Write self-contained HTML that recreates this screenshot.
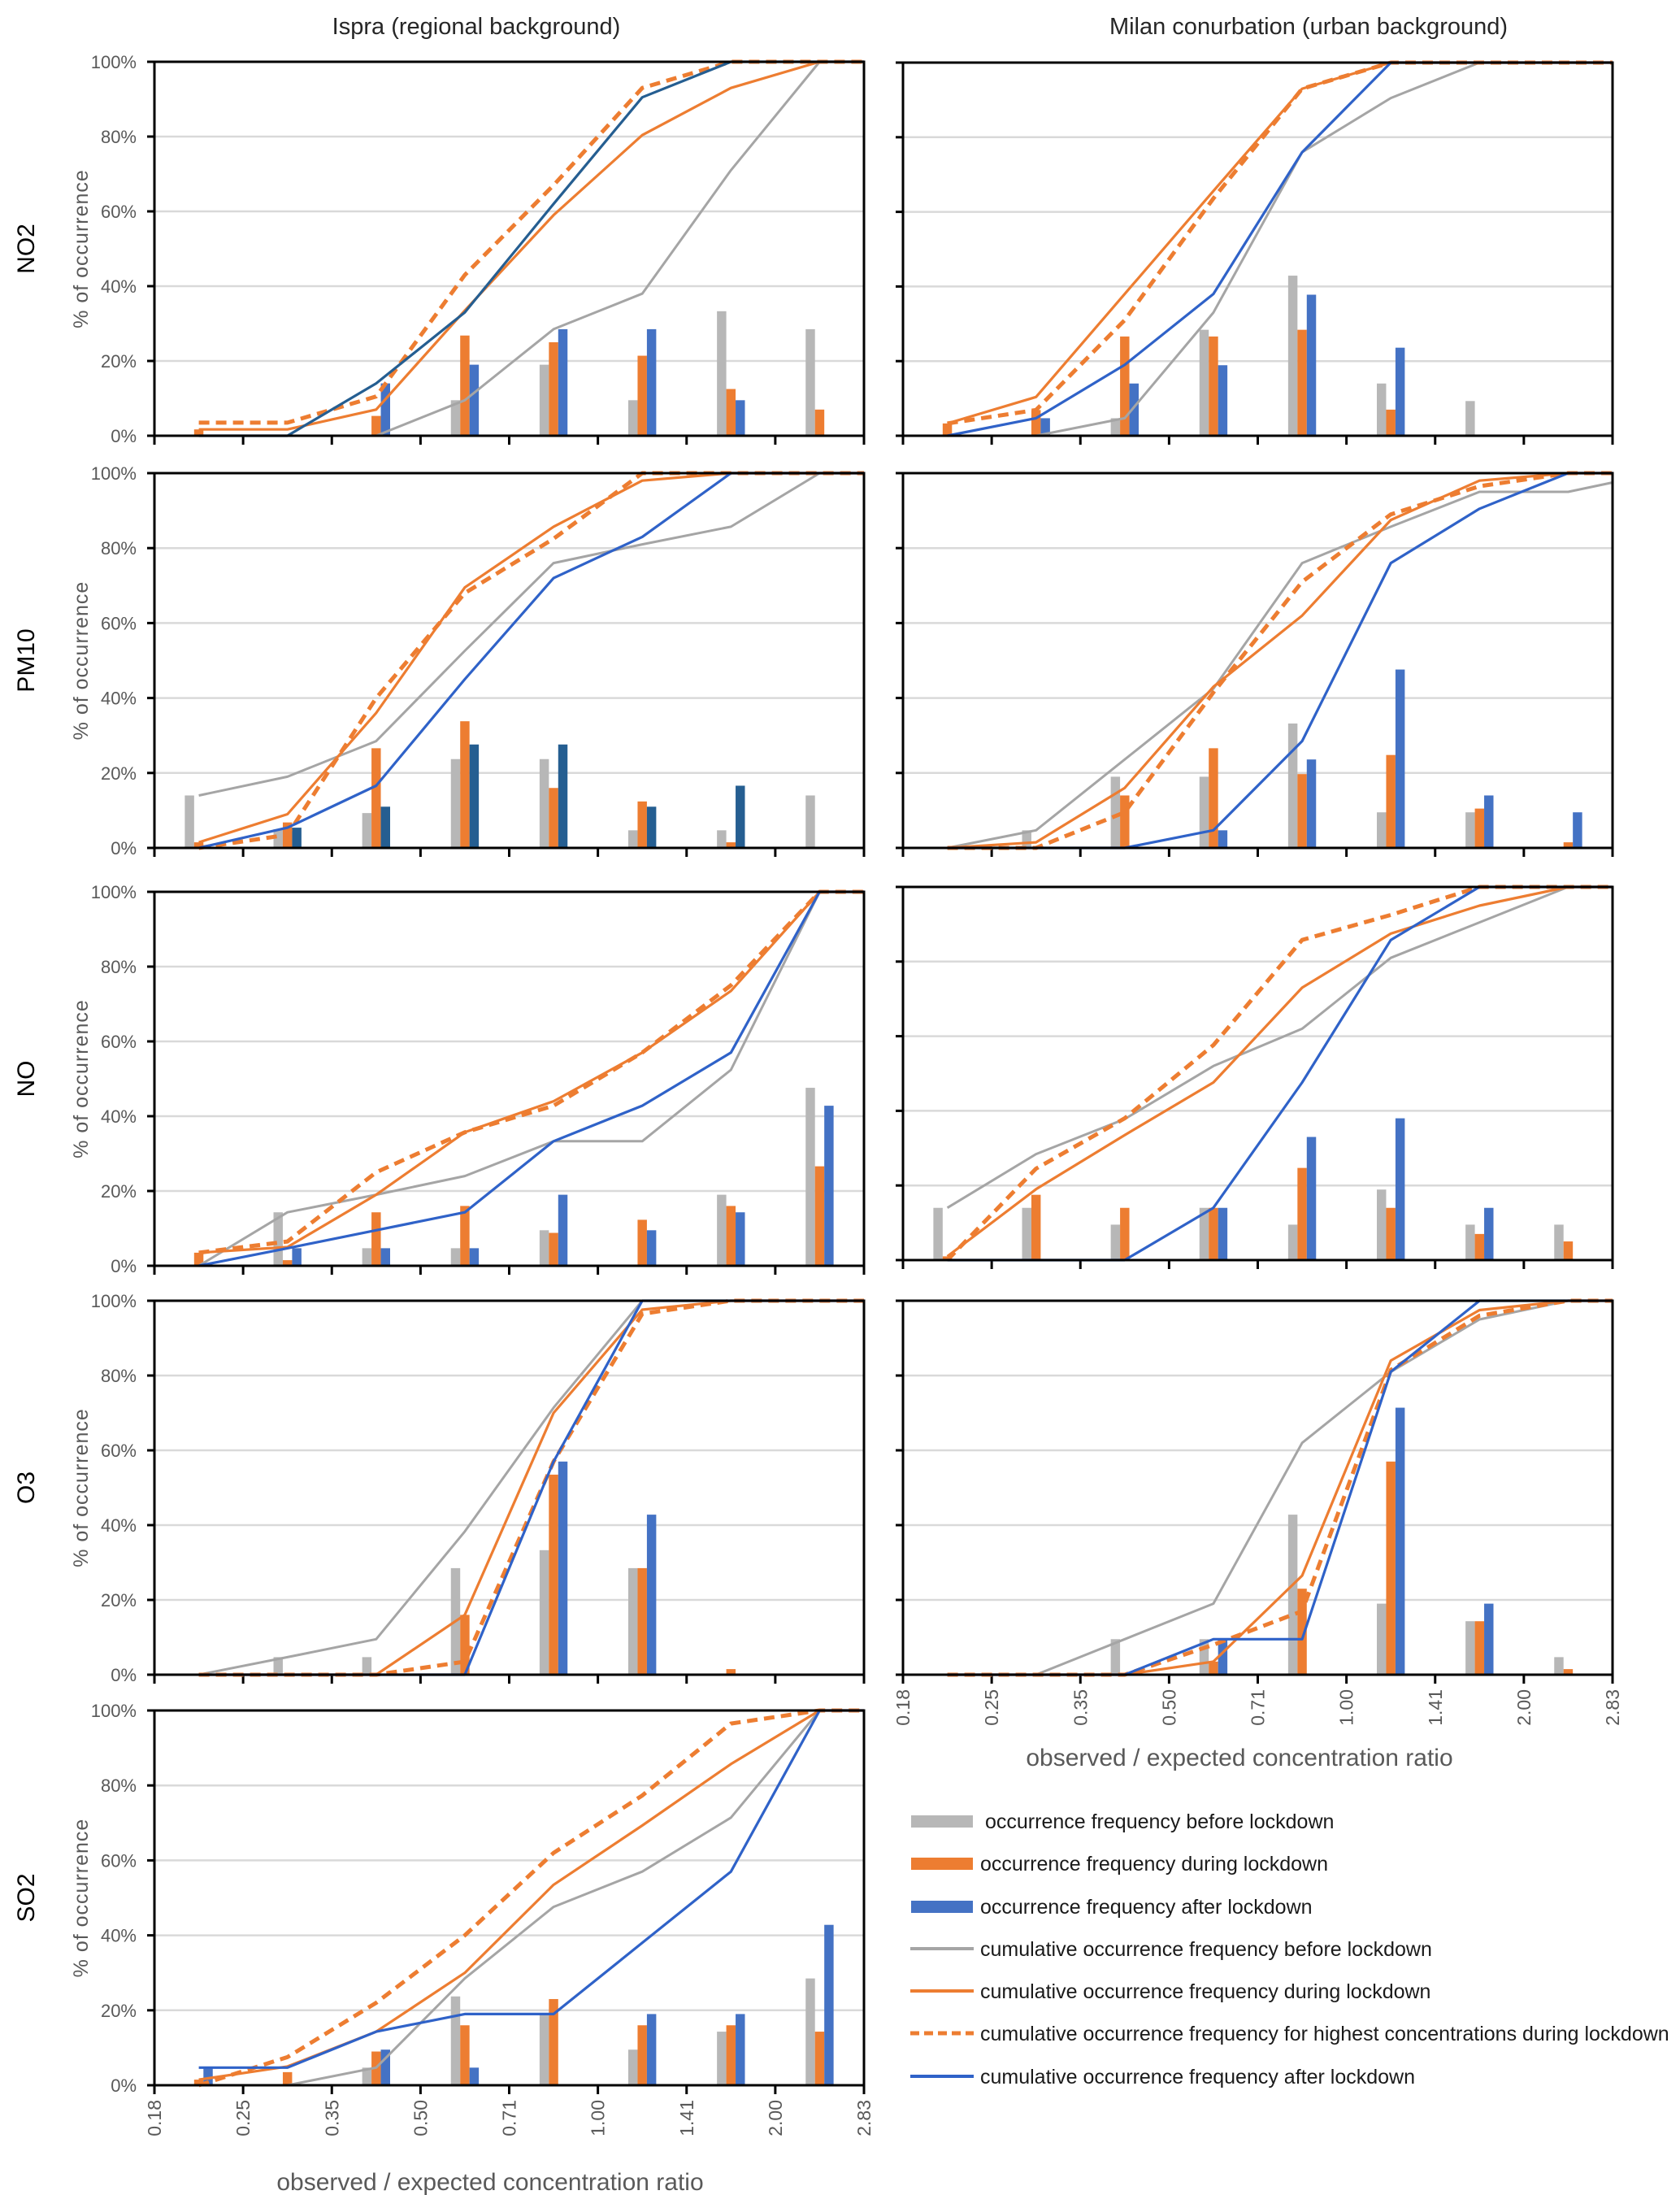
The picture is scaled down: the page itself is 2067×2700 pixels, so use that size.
<!DOCTYPE html>
<html><head><meta charset="utf-8"><style>
html,body{margin:0;padding:0;background:#fff;}
svg{display:block;font-family:"Liberation Sans",sans-serif;}
</style></head>
<body>
<svg id="fig" width="2067" height="2700" viewBox="0 0 2067 2700" xmlns="http://www.w3.org/2000/svg"></svg>
<script>
// ---- shared axis data ----
const tickLabels = ['0.18','0.25','0.35','0.50','0.71','1.00','1.41','2.00','2.83'];
const yTicks = [0,20,40,60,80,100];

// ---- Ispra NO2 ----
const ispraNO2Before = [0,0,0,9.5,19,9.5,33.3,28.5];
const ispraNO2During = [1.7,0,5.3,26.8,25,21.4,12.5,7];
const ispraNO2After  = [0,0,14,19,28.5,28.5,9.5,0];
const ispraNO2CumBefore = [0,0,0,9.5,28.5,38,71,100,100];
const ispraNO2CumDuring = [1.7,1.7,7,33.5,59,80.4,93,100,100];
const ispraNO2CumHigh   = [3.5,3.5,10.5,43,67,93,100,100,100];
const ispraNO2CumAfter  = [0,0,14,33,62,90.5,100,100,100];
// ---- Milan NO2 ----
const milanNO2Before = [0,0,4.7,28.4,42.9,14,9.3,0];
const milanNO2During = [3.3,6.9,26.6,26.6,28.4,7,0,0];
const milanNO2After  = [0,4.7,14,18.9,37.8,23.6,0,0];
const milanNO2CumBefore = [0,0,4.7,33,76,90.5,100,100,100];
const milanNO2CumDuring = [3.3,10.4,38,65.6,93,100,100,100,100];
const milanNO2CumHigh   = [3.3,6.9,31,63.6,93,100,100,100,100];
const milanNO2CumAfter  = [0,4.7,19,38,76,100,100,100,100];
// ---- Ispra PM10 ----
const ispraPM10Before = [14,5,9.3,23.7,23.7,4.7,4.7,14];
const ispraPM10During = [1.5,6.8,26.6,33.8,16,12.4,1.5,0];
const ispraPM10After  = [0,5.4,11,27.6,27.6,11,16.6,0];
const ispraPM10CumBefore = [14,19,28.5,52.6,76,81,85.7,100,100];
const ispraPM10CumDuring = [1.5,9,36,69.5,85.7,98,100,100,100];
const ispraPM10CumHigh   = [0,3.5,40,68,82.5,100,100,100,100];
const ispraPM10CumAfter  = [0,5.4,16.6,45,72,83,100,100,100];
// ---- Milan PM10 ----
const milanPM10Before = [0,4.7,19,19,33.2,9.5,9.5,0];
const milanPM10During = [0,0,14,26.6,19.7,24.8,10.5,1.5];
const milanPM10After  = [0,0,0,4.7,23.6,47.6,14,9.5];
const milanPM10CumBefore = [0,4.7,23.6,42.5,76,85.7,95,95,97.5];
const milanPM10CumDuring = [0,1.5,16,43,62,87.5,98,100,100];
const milanPM10CumHigh   = [0,0,9.5,41.5,71,89,96.5,100,100];
const milanPM10CumAfter  = [0,0,0,4.7,28.5,76,90.5,100,100];
// ---- Ispra NO ----
const ispraNOBefore = [0,14.3,4.7,4.7,9.5,0,19,47.6];
const ispraNODuring = [3.5,1.5,14.3,16,8.8,12.3,16,26.6];
const ispraNOAfter  = [0,4.7,4.7,4.7,19,9.5,14.3,42.8];
const ispraNOCumBefore = [0,14.3,19,24,33.3,33.3,52.4,100,100];
const ispraNOCumDuring = [3.5,5,19,35.7,44,57,73.5,100,100];
const ispraNOCumHigh   = [3.5,6.5,25,35.7,42.8,57,75,100,100];
const ispraNOCumAfter  = [0,4.7,9.5,14.3,33.3,42.8,57,100,100];
// ---- Milan NO ----
const milanNOBefore = [14,14,9.5,14,9.5,18.9,9.5,9.5];
const milanNODuring = [1,17.5,14,14,24.7,14,7,5];
const milanNOAfter  = [0,0,0,14,33,38,14,0];
const milanNOCumBefore = [14,28.4,37.8,52,62,81,90.5,100,100];
const milanNOCumDuring = [1,19,33.5,47.6,73,87.5,95,100,100];
const milanNOCumHigh   = [0,24.5,38,57.6,85.8,92.5,100,100,100];
const milanNOCumAfter  = [0,0,0,14,47.6,85.8,100,100,100];
// ---- Ispra O3 ----
const ispraO3Before = [0,4.7,4.7,28.5,33.3,28.5,0,0];
const ispraO3During = [0,0,0,16,53.5,28.5,1.5,0];
const ispraO3After  = [0,0,0,0,57,42.8,0,0];
const ispraO3CumBefore = [0,4.7,9.5,38.3,71.4,100,100,100,100];
const ispraO3CumDuring = [0,0,0,16,70,97.6,100,100,100];
const ispraO3CumHigh   = [0,0,0,3.5,57,96.5,100,100,100];
const ispraO3CumAfter  = [0,0,0,0,57,100,100,100,100];
// ---- Milan O3 ----
const milanO3Before = [0,0,9.5,9.5,42.8,19,14.3,4.7];
const milanO3During = [0,0,0,3.5,23,57,14.3,1.5];
const milanO3After  = [0,0,0,9.5,0,71.4,19,0];
const milanO3CumBefore = [0,0,9.5,19,62,81,95,100,100];
const milanO3CumDuring = [0,0,0,3.5,26.5,84,97.5,100,100];
const milanO3CumHigh   = [0,0,0,8,17,81.5,96,100,100];
const milanO3CumAfter  = [0,0,0,9.5,9.5,81,100,100,100];
// ---- Ispra SO2 ----
const ispraSO2Before = [0,0,4.7,23.7,19,9.5,14.3,28.5];
const ispraSO2During = [1.5,3.5,9,16,23,16,16,14.3];
const ispraSO2After  = [4.7,0,9.5,4.7,0,19,19,42.8];
const ispraSO2CumBefore = [0,0,4.7,28.5,47.6,57,71.4,100,100];
const ispraSO2CumDuring = [1.5,5,14.3,30,53.5,69.3,85.7,100,100];
const ispraSO2CumHigh   = [0,7.5,22,40,62,77.3,96.5,100,100];
const ispraSO2CumAfter  = [4.7,4.7,14.3,19,19,38,57,100,100];

const C = {gray:'#b7b7b7', grayLine:'#a5a5a5', orange:'#ed7d31', blue:'#4472c4', blueLine:'#2f62c8', dark:'#255e91'};
const LX0=190, LX1=1063, RX0=1111, RX1=1984;

const panels = [
 {name:'ispra-no2', row:'NO2', left:true, x0:LX0,x1:LX1,y0:76,y1:536,
  bars:[ispraNO2Before,ispraNO2During,ispraNO2After], lines:[ispraNO2CumBefore,ispraNO2CumDuring,ispraNO2CumHigh,ispraNO2CumAfter], blueBar:C.blue, blueLine:C.dark},
 {name:'milan-no2', row:'NO2', left:false, x0:RX0,x1:RX1,y0:77,y1:536,
  bars:[milanNO2Before,milanNO2During,milanNO2After], lines:[milanNO2CumBefore,milanNO2CumDuring,milanNO2CumHigh,milanNO2CumAfter], blueBar:C.blue, blueLine:C.blueLine},
 {name:'ispra-pm10', row:'PM10', left:true, x0:LX0,x1:LX1,y0:582,y1:1043,
  bars:[ispraPM10Before,ispraPM10During,ispraPM10After], lines:[ispraPM10CumBefore,ispraPM10CumDuring,ispraPM10CumHigh,ispraPM10CumAfter], blueBar:C.dark, blueLine:C.blueLine},
 {name:'milan-pm10', row:'PM10', left:false, x0:RX0,x1:RX1,y0:582,y1:1043,
  bars:[milanPM10Before,milanPM10During,milanPM10After], lines:[milanPM10CumBefore,milanPM10CumDuring,milanPM10CumHigh,milanPM10CumAfter], blueBar:C.blue, blueLine:C.blueLine},
 {name:'ispra-no', row:'NO', left:true, x0:LX0,x1:LX1,y0:1097,y1:1557,
  bars:[ispraNOBefore,ispraNODuring,ispraNOAfter], lines:[ispraNOCumBefore,ispraNOCumDuring,ispraNOCumHigh,ispraNOCumAfter], blueBar:C.blue, blueLine:C.blueLine},
 {name:'milan-no', row:'NO', left:false, x0:RX0,x1:RX1,y0:1091,y1:1550,
  bars:[milanNOBefore,milanNODuring,milanNOAfter], lines:[milanNOCumBefore,milanNOCumDuring,milanNOCumHigh,milanNOCumAfter], blueBar:C.blue, blueLine:C.blueLine},
 {name:'ispra-o3', row:'O3', left:true, x0:LX0,x1:LX1,y0:1600,y1:2060,
  bars:[ispraO3Before,ispraO3During,ispraO3After], lines:[ispraO3CumBefore,ispraO3CumDuring,ispraO3CumHigh,ispraO3CumAfter], blueBar:C.blue, blueLine:C.blueLine},
 {name:'milan-o3', row:'O3', left:false, x0:RX0,x1:RX1,y0:1600,y1:2060, xlabels:true,
  bars:[milanO3Before,milanO3During,milanO3After], lines:[milanO3CumBefore,milanO3CumDuring,milanO3CumHigh,milanO3CumAfter], blueBar:C.blue, blueLine:C.blueLine},
 {name:'ispra-so2', row:'SO2', left:true, x0:LX0,x1:LX1,y0:2104,y1:2565, xlabels:true,
  bars:[ispraSO2Before,ispraSO2During,ispraSO2After], lines:[ispraSO2CumBefore,ispraSO2CumDuring,ispraSO2CumHigh,ispraSO2CumAfter], blueBar:C.blue, blueLine:C.blueLine}
];

const NS='http://www.w3.org/2000/svg';
const svg=document.getElementById('fig');
function mk(tag, attrs, parent){
  const e=document.createElementNS(NS,tag);
  for(const k in attrs) e.setAttribute(k, attrs[k]);
  (parent||svg).appendChild(e);
  return e;
}
function xBin(p,i){ const bw=(p.x1-p.x0)/8; return i>=8 ? p.x1 : p.x0+(i+0.5)*bw; }
function xEdge(p,i){ return p.x0+i*(p.x1-p.x0)/8; }
function yVal(p,v){ return p.y1-(v/100)*(p.y1-p.y0); }

let t;
t=mk('text',{x:586,y:42,'text-anchor':'middle','font-size':29,fill:'#262626'});
t.textContent='Ispra (regional background)';


t=mk('text',{x:1610,y:42,'text-anchor':'middle','font-size':29,fill:'#262626'});
t.textContent='Milan conurbation (urban background)';



panels.forEach(p=>{
  const g=mk('g',{});
  
  
  yTicks.forEach(v=>{
    if(v>0 && v<100){
      const gl=mk('line',{x1:p.x0,x2:p.x1,y1:yVal(p,v),y2:yVal(p,v),stroke:'#d9d9d9','stroke-width':2.5},g);
      
      
    }
    const tk=mk('line',{x1:p.x0-9,x2:p.x0,y1:yVal(p,v),y2:yVal(p,v),stroke:'#000','stroke-width':3},g);
    
    
    if(p.left){
      const lb=mk('text',{x:168,y:yVal(p,v)+8,'text-anchor':'end','font-size':22,fill:'#595959'},g);
      lb.textContent=v+'%';
      
      
    }
  });
  for(let i=0;i<=8;i++){
    const tk=mk('line',{x1:xEdge(p,i),x2:xEdge(p,i),y1:p.y1,y2:p.y1+11,stroke:'#000','stroke-width':3},g);
    
    
    if(p.xlabels){
      const xx=xEdge(p,i), yy=p.y1+18;
      const lb=mk('text',{x:0,y:0,'text-anchor':'end','font-size':23,fill:'#595959',transform:`translate(${xx+8},${yy}) rotate(-90)`},g);
      lb.textContent=tickLabels[i];
      
      
    }
  }
  const bw=(p.x1-p.x0)/8, barW=bw*0.105;
  const barColors=[C.gray,C.orange,p.blueBar];
  const barNames=['before','during','after'];
  p.bars.forEach((arr,s)=>{
    arr.forEach((v,i)=>{
      if(v<=0) return;
      const cx=xBin(p,i)+(s-1)*barW;
      const r=mk('rect',{x:cx-barW/2,y:yVal(p,v),width:barW,height:p.y1-yVal(p,v),fill:barColors[s]},g);
      
      
    });
  });
  const lineStyles=[
    {c:C.grayLine,w:3,d:null,n:'cumulative-before'},
    {c:C.orange,w:3.2,d:null,n:'cumulative-during'},
    {c:C.orange,w:5,d:'13 8',n:'cumulative-highest-during'},
    {c:p.blueLine,w:3.2,d:null,n:'cumulative-after'}
  ];
  p.lines.forEach((arr,s)=>{
    const pts=arr.map((v,i)=>xBin(p,i).toFixed(1)+','+yVal(p,v).toFixed(1)).join(' ');
    const a={points:pts,fill:'none',stroke:lineStyles[s].c,'stroke-width':lineStyles[s].w,'stroke-linejoin':'round'};
    if(lineStyles[s].d) a['stroke-dasharray']=lineStyles[s].d;
    const pl=mk('polyline',a,g);
    
    
  });
  const fr=mk('rect',{x:p.x0,y:p.y0,width:p.x1-p.x0,height:p.y1-p.y0,fill:'none',stroke:'#000','stroke-width':3},g);
  
  
  if(p.left){
    const cy=(p.y0+p.y1)/2;
    const yt=mk('text',{x:0,y:0,'text-anchor':'middle','font-size':25,fill:'#595959','letter-spacing':1,transform:`translate(108,${cy}) rotate(-90)`},g);
    yt.textContent='% of occurrence';
    
    
    const rl=mk('text',{x:0,y:0,'text-anchor':'middle','font-size':30,fill:'#000',transform:`translate(42,${cy}) rotate(-90)`},g);
    rl.textContent=p.row;
    
    
  }
});

t=mk('text',{x:1525,y:2172,'text-anchor':'middle','font-size':30,fill:'#595959'});
t.textContent='observed / expected concentration ratio';


t=mk('text',{x:603,y:2694,'text-anchor':'middle','font-size':30,fill:'#595959'});
t.textContent='observed / expected concentration ratio';



const legendLabels=[
 'occurrence frequency before lockdown',
 'occurrence frequency during lockdown',
 'occurrence frequency after lockdown',
 'cumulative occurrence frequency before lockdown',
 'cumulative occurrence frequency during lockdown',
 'cumulative occurrence frequency for highest concentrations during lockdown',
 'cumulative occurrence frequency after lockdown'
];
const legendY=[2240,2292,2345,2397,2449,2501,2554];
const lg=mk('g',{});


legendLabels.forEach((lab,i)=>{
  const y=legendY[i];
  let sw;
  if(i<3){
    sw=mk('rect',{x:1121,y:y-7,width:76,height:15,fill:[C.gray,C.orange,C.blue][i]},lg);
  } else {
    const a={x1:1120,x2:1198,y1:y,y2:y,stroke:[C.grayLine,C.orange,C.orange,C.blueLine][i-3],'stroke-width':i===5?5:4};
    if(i===5) a['stroke-dasharray']='11 6';
    sw=mk('line',a,lg);
  }
  
  
  const tx=mk('text',{x:i===0?1212:1206,y:y+9,'font-size':25,fill:'#1a1a1a'},lg);
  tx.textContent=lab;
  
  
});
</script>
</body></html>
